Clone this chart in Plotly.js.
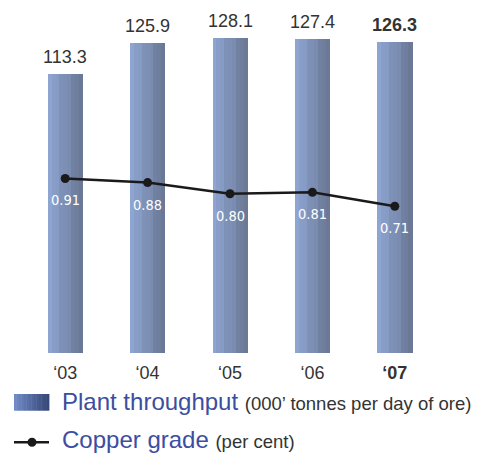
<!DOCTYPE html>
<html>
<head>
<meta charset="utf-8">
<script src="https://cdn.plot.ly/plotly-3.0.1.min.js"></script>
<style>
  html, body { margin: 0; padding: 0; background: #ffffff; }
  #chart { width: 479px; height: 453px; }
</style>
</head>
<body>
<div id="chart"></div>
<script>
// Years on the category axis
const years = ['‘03', '‘04', '‘05', '‘06', '‘07'];
const yearLabels = ['‘03', '‘04', '‘05', '‘06', '<b>‘07</b>'];

// Plant throughput, 000' tonnes per day of ore
const throughput = [113.3, 125.9, 128.1, 127.4, 126.3];
const throughputLabels = ['113.3', '125.9', '128.1', '127.4', '<b>126.3</b>'];

// Copper grade, per cent
const copperGrade = [0.91, 0.88, 0.80, 0.81, 0.71];
const copperLabels = ['0.91', '0.88', '0.80', '0.81', '0.71'];

// Plot area geometry (pixels) used to place the hand-built legend
const W = 479, H = 453;
const M = { l: 24, r: 43, t: 20, b: 100 };
const plotW = W - M.l - M.r;
const plotH = H - M.t - M.b;
const px = x => (x - M.l) / plotW;
const py = y => (H - M.b - y) / plotH;

function mix(c1, c2, t) {
  const a = c1.match(/\w\w/g).map(h => parseInt(h, 16));
  const b = c2.match(/\w\w/g).map(h => parseInt(h, 16));
  return 'rgb(' + a.map((v, i) => Math.round(v + (b[i] - v) * t)).join(',') + ')';
}

// Each bar is drawn as a set of narrow vertical strips shading from light to dark
const barWidth = 0.424;
const strips = 9;
const stripe = [0, 0.06, -0.04, 0.08, 0, -0.05, 0.07, 0.02, 0];
const traces = [];
for (let i = 0; i < strips; i++) {
  const t = Math.min(1, Math.max(0, i / (strips - 1) + stripe[i]));
  traces.push({
    type: 'bar',
    x: years,
    y: throughput,
    width: barWidth / strips + 0.003,
    offset: -barWidth / 2 + i * barWidth / strips,
    marker: { color: mix('8ea5d2', '6b7996', t), line: { width: 0 } },
    hoverinfo: 'skip',
    showlegend: false
  });
}

traces.push({
  type: 'scatter',
  mode: 'lines+markers',
  x: years,
  y: copperGrade,
  yaxis: 'y2',
  line: { color: '#1a1a1a', width: 2.5 },
  marker: { color: '#1a1a1a', size: 9 },
  showlegend: false,
  hoverinfo: 'skip'
});

const annotations = [];
throughput.forEach((v, i) => {
  annotations.push({
    x: years[i], y: v, xref: 'x', yref: 'y',
    text: throughputLabels[i], showarrow: false,
    yanchor: 'bottom', yshift: 5,
    font: { family: 'Liberation Sans, Arial, sans-serif', size: 18, color: '#333333' }
  });
});
copperGrade.forEach((v, i) => {
  annotations.push({
    x: years[i], y: v, xref: 'x', yref: 'y2',
    text: copperLabels[i], showarrow: false,
    yanchor: 'middle', yshift: -22,
    font: { family: 'Liberation Sans Narrow, DejaVu Sans Condensed, Arial Narrow, sans-serif', size: 14.5, color: '#ffffff' }
  });
});

// Legend entries
annotations.push({
  xref: 'paper', yref: 'paper', x: px(60), y: py(402), xanchor: 'left', yanchor: 'middle',
  showarrow: false,
  text: 'Plant throughput <span style="font-size:18.5px;color:#333333">(000’ tonnes per day of ore)</span>',
  font: { family: 'Liberation Sans, Arial, sans-serif', size: 24, color: '#3b4ea0' }
});
annotations.push({
  xref: 'paper', yref: 'paper', x: px(60), y: py(439), xanchor: 'left', yanchor: 'middle',
  showarrow: false,
  text: 'Copper grade <span style="font-size:18.5px;color:#333333">(per cent)</span>',
  font: { family: 'Liberation Sans, Arial, sans-serif', size: 24, color: '#3b4ea0' }
});

const shapes = [];
// gradient swatch for the throughput legend entry
const swN = 14;
for (let i = 0; i < swN; i++) {
  const x0 = 14 + i * 35 / swN;
  shapes.push({
    type: 'rect', xref: 'paper', yref: 'paper',
    x0: px(x0), x1: px(x0 + 35 / swN + 0.4), y0: py(410.7), y1: py(394),
    fillcolor: mix('6f8ac6', '364878', i / (swN - 1)), line: { width: 0 }
  });
}
// line-and-marker swatch for the copper grade entry
shapes.push({
  type: 'line', xref: 'paper', yref: 'paper',
  x0: px(14), x1: px(49), y0: py(442.3), y1: py(442.3),
  line: { color: '#1a1a1a', width: 2.5 }
});
shapes.push({
  type: 'circle', xref: 'paper', yref: 'paper',
  x0: px(27.5), x1: px(36.5), y0: py(446.8), y1: py(437.8),
  fillcolor: '#1a1a1a', line: { width: 0 }
});

const layout = {
  width: W, height: H,
  margin: M,
  paper_bgcolor: '#ffffff', plot_bgcolor: '#ffffff',
  barmode: 'overlay',
  bargap: 0,
  showlegend: false,
  xaxis: {
    type: 'category',
    range: [-0.5, 4.5],
    tickvals: years, ticktext: yearLabels,
    showgrid: false, zeroline: false, showline: false, ticks: '',
    ticklabelstandoff: 7,
    tickfont: { family: 'Liberation Sans, Arial, sans-serif', size: 18, color: '#333333' },
    fixedrange: true
  },
  yaxis: {
    range: [0, 135.25],
    visible: false, showgrid: false, zeroline: false, fixedrange: true
  },
  yaxis2: {
    overlaying: 'y',
    range: [-0.348, 2.052],
    visible: false, showgrid: false, zeroline: false, fixedrange: true
  },
  annotations: annotations,
  shapes: shapes
};

Plotly.newPlot('chart', traces, layout, { staticPlot: true, displayModeBar: false });
</script>
</body>
</html>
